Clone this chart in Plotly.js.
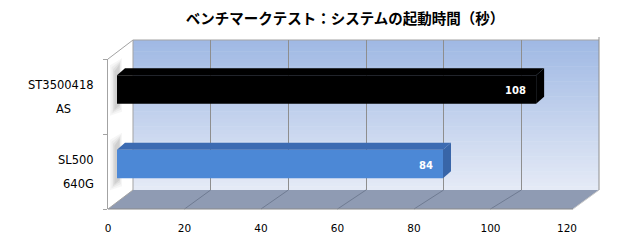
<!DOCTYPE html>
<html><head><meta charset="utf-8">
<script src="https://cdn.plot.ly/plotly-3.0.1.min.js"></script>
<style>html,body{margin:0;padding:0;background:#fff}#chart{width:620px;height:250px}</style>
</head><body><div id="chart"></div>
<script>
const titleText = "ベンチマークテスト：システムの起動時間（秒）";
const categoryLine1 = ["SL500", "ST3500418"];
const categoryLine2 = ["640G", "AS"];
const bootSeconds = [84, 108];
const barFront = ["#4C88D6", "#000000"];
const barTop = ["#3C6BB2", "#000000"];
const barSide = ["#3865A8", "#000000"];
const xTickValues = [0, 20, 40, 60, 80, 100, 120];

const W = 620, H = 250;
const px = x => x / W, py = y => 1 - y / H;
const FRONT = {x0: 108, x1: 567, yTop: 59, yBot: 209};
const BACK = {x0: 133, x1: 599, yTop: 40, yBot: 190};
const BAR = {x0: 117, x1: 582.7, yTop: 52.25, yBot: 201.25};
const XMAX = 120;
const barWidth = 0.38;
const depth = {dx: 8, dy: 7};
const dxU = depth.dx * XMAX / (BAR.x1 - BAR.x0);
const dyU = depth.dy * 2 / (BAR.yBot - BAR.yTop);

const lineGray = "#A3A3A3";
const shapes = [];
function poly(pts, fill, line, lw) {
  const d = pts.map((p, k) => (k ? "L" : "M") + px(p[0]) + "," + py(p[1])).join(" ") + " Z";
  shapes.push({type: "path", xref: "paper", yref: "paper", path: d, fillcolor: fill,
    line: {color: line || "rgba(0,0,0,0)", width: lw || 0}, layer: "below"});
}
function seg(a, b, color, w) {
  shapes.push({type: "line", xref: "paper", yref: "paper", x0: px(a[0]), y0: py(a[1]), x1: px(b[0]), y1: py(b[1]),
    line: {color: color, width: w || 1}, layer: "below"});
}
// back wall gradient
const topC = [160, 185, 228], botC = [228, 234, 246];
const N = 40;
for (let k = 0; k < N; k++) {
  const t = k / (N - 1);
  const c = topC.map((v, j) => Math.round(v + (botC[j] - v) * t));
  const y0 = BACK.yTop + (BACK.yBot - BACK.yTop) * k / N;
  const y1 = BACK.yTop + (BACK.yBot - BACK.yTop) * (k + 1) / N + 0.5;
  poly([[BACK.x0, y0], [BACK.x1, y0], [BACK.x1, y1], [BACK.x0, y1]], `rgb(${c.join(",")})`);
}
// left wall
poly([[FRONT.x0, FRONT.yTop], [BACK.x0, BACK.yTop], [BACK.x0, BACK.yBot], [FRONT.x0, FRONT.yBot]], "#FFFFFF");
// soft shadows on left wall
bootSeconds.forEach((v, i) => {
  const c = BAR.yBot - (i + 0.5) / 2 * (BAR.yBot - BAR.yTop);
  const h = barWidth / 2 * (BAR.yBot - BAR.yTop) / 2;
  const layers = [[110, 122, 6, 0.05], [111.5, 121, 4, 0.06], [113, 120, 2, 0.08], [114.5, 119.5, 0, 0.10]];
  layers.forEach(([a, b, g, o]) => {
    poly([[a, c - h - 4 - g], [b, c - h - 11 - g], [b, c + h + 2 + g], [a, c + h + 6 + g]], `rgba(80,80,80,${o})`);
  });
});
// floor
poly([[FRONT.x0, FRONT.yBot], [573, FRONT.yBot], [BACK.x1, BACK.yBot], [BACK.x0, BACK.yBot]], "#8F9BB3");
xTickValues.forEach(v => {
  const fx = FRONT.x0 + v * (FRONT.x1 - FRONT.x0) / XMAX;
  const bx = BACK.x0 + v * (BACK.x1 - BACK.x0) / XMAX;
  if (v > 0 && v < XMAX) seg([fx, FRONT.yBot], [bx, BACK.yBot], "#6F7B92", 1);
});
seg([FRONT.x0, FRONT.yBot], [573, FRONT.yBot], "#8A8A8A", 1);
seg([573, FRONT.yBot], [BACK.x1, BACK.yBot], "#C8C8C8", 1);
// wall edges
seg([FRONT.x0, FRONT.yTop], [BACK.x0, BACK.yTop], lineGray, 1);
seg([BACK.x0, BACK.yTop], [BACK.x0, BACK.yBot], lineGray, 1);
seg([BACK.x0, BACK.yTop], [BACK.x1, BACK.yTop], lineGray, 1);
seg([BACK.x1, BACK.yTop - 3], [BACK.x1, BACK.yBot], "#8E8E8E", 1);
seg([FRONT.x0, FRONT.yBot], [BACK.x0, BACK.yBot], lineGray, 1);

const traces = [];
traces.push({type: "scatter", x: [0, XMAX], y: [-0.5, 1.5], mode: "markers", marker: {opacity: 0}, hoverinfo: "skip", xaxis: "x", yaxis: "y"});
traces.push({type: "scatter", x: [0, XMAX], y: [0, 1], mode: "markers", marker: {opacity: 0}, hoverinfo: "skip", xaxis: "x2", yaxis: "y2"});
traces.push({type: "bar", orientation: "h", y: [0, 1], x: bootSeconds, width: barWidth,
  marker: {color: barFront, line: {width: 0}}, textposition: "none",
  xaxis: "x3", yaxis: "y3", hoverinfo: "skip"});
bootSeconds.forEach((v, i) => {
  const yt = i + barWidth / 2, yb = i - barWidth / 2;
  traces.push({type: "scatter", mode: "lines", fill: "toself", fillcolor: barTop[i], line: {width: 0, color: barTop[i]},
    x: [0, v, v + dxU, dxU, 0], y: [yt, yt, yt + dyU, yt + dyU, yt], xaxis: "x3", yaxis: "y3", hoverinfo: "skip"});
  traces.push({type: "scatter", mode: "lines", fill: "toself", fillcolor: barSide[i], line: {width: 0, color: barSide[i]},
    x: [v, v + dxU, v + dxU, v, v], y: [yb, yb + dyU, yt + dyU, yt, yb], xaxis: "x3", yaxis: "y3", hoverinfo: "skip"});
});

// category labels
const labelFont = {family: "DejaVu Sans", size: 11.5, color: "#000000"};
const cv = document.createElement("canvas").getContext("2d");
cv.font = labelFont.size + "px 'DejaVu Sans'";
const labelRight = 96;
const annotations = [];
categoryLine1.forEach((t, i) => {
  const w1 = cv.measureText(t).width;
  annotations.push({xref: "paper", yref: "y", x: px(labelRight), y: i, xanchor: "right", yanchor: "middle",
    yshift: 11.5, text: t, showarrow: false, font: labelFont});
  annotations.push({xref: "paper", yref: "y", x: px(labelRight - w1 / 2), y: i, xanchor: "center", yanchor: "middle",
    yshift: -12, text: categoryLine2[i], showarrow: false, font: labelFont});
});
// value labels inside bar ends
bootSeconds.forEach((v, i) => {
  annotations.push({xref: "x3", yref: "y3", x: v, y: i, xanchor: "right", yanchor: "middle", xshift: -8, yshift: -1,
    text: String(v), showarrow: false,
    font: {family: "DejaVu Sans", size: 10, color: "#FFFFFF", weight: "bold"}});
});

const layout = {
  width: W, height: H, autosize: false, margin: {l: 0, r: 0, t: 0, b: 0},
  paper_bgcolor: "#FFFFFF", plot_bgcolor: "rgba(0,0,0,0)", showlegend: false,
  title: {text: titleText, x: px(345), xref: "paper", xanchor: "center", y: py(19), yref: "paper", yanchor: "middle",
    font: {family: "Noto Sans CJK JP", size: 14.5, color: "#000000", weight: "bold"}},
  xaxis: {domain: [px(FRONT.x0), px(FRONT.x1)], range: [0, XMAX], tickvals: xTickValues, ticks: "", showgrid: false,
    zeroline: false, showline: false, tickfont: {family: "DejaVu Sans", size: 10.5, color: "#000000"},
    ticklabelstandoff: 11, anchor: "y"},
  yaxis: {domain: [py(FRONT.yBot), py(FRONT.yTop)], range: [-0.5, 1.5], tickvals: [-0.5, 0.5, 1.5], ticktext: ["", "", ""],
    ticks: "outside", ticklen: 4, tickcolor: lineGray, showline: true, linecolor: lineGray, showgrid: false,
    zeroline: false, anchor: "x"},
  xaxis2: {domain: [px(BACK.x0), px(BACK.x1)], range: [0, XMAX], tickvals: xTickValues, showticklabels: false, ticks: "",
    showgrid: true, gridcolor: "#8E8E8E", gridwidth: 1, zeroline: false, showline: false, anchor: "y2"},
  yaxis2: {domain: [py(BACK.yBot), py(BACK.yTop)], range: [0, 1], visible: false, anchor: "x2"},
  xaxis3: {domain: [px(BAR.x0), px(BAR.x1)], range: [0, XMAX], visible: false, anchor: "y3"},
  yaxis3: {domain: [py(BAR.yBot), py(BAR.yTop)], range: [-0.5, 1.5], visible: false, anchor: "x3"},
  shapes: shapes, annotations: annotations
};
Plotly.newPlot("chart", traces, layout, {displayModeBar: false, staticPlot: true});
</script></body></html>
